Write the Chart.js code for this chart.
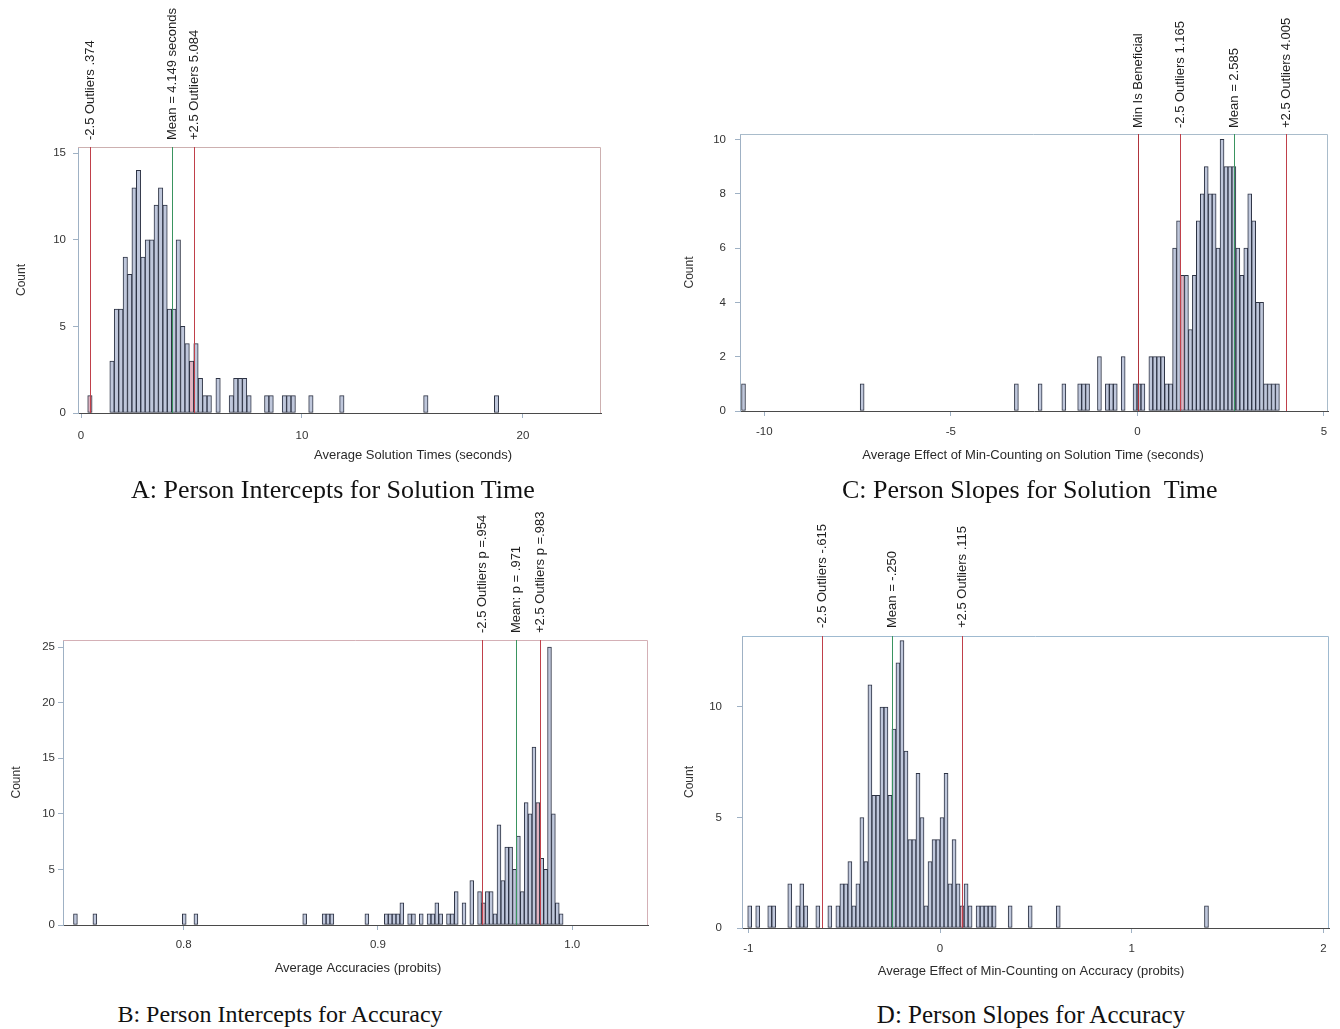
<!DOCTYPE html>
<html>
<head>
<meta charset="utf-8">
<title>Person intercepts and slopes</title>
<script src="https://cdn.jsdelivr.net/npm/chart.js@4.4.1/dist/chart.umd.min.js"></script>
<style>
  body { margin: 0; background: #fff; }
  #page { position: relative; width: 1340px; height: 1029px; overflow: hidden; }
  .panel { position: absolute; }
  .caption {
    position: absolute;
    font-family: "Liberation Serif", "Times New Roman", serif;
    font-size: 26px;
    line-height: 26px;
    color: #111;
    white-space: pre;
  }
  .centred { transform: translateX(-50%); }
</style>
</head>
<body>
<div id="page">
  <canvas id="chartA" class="panel" width="640" height="475" style="left:0px;top:0px"></canvas>
  <canvas id="chartC" class="panel" width="680" height="475" style="left:660px;top:0px"></canvas>
  <canvas id="chartB" class="panel" width="660" height="520" style="left:0px;top:478px"></canvas>
  <canvas id="chartD" class="panel" width="680" height="520" style="left:660px;top:478px"></canvas>

  <div class="caption" style="left:131px;top:477px">A: Person Intercepts for Solution Time</div>
  <div class="caption" style="left:842px;top:477px">C: Person Slopes for Solution  Time</div>
  <div class="caption centred" style="left:280px;top:1002px;font-size:24px;line-height:24px">B: Person Intercepts for Accuracy</div>
  <div class="caption centred" style="left:1031px;top:1002px;font-size:25px;line-height:25px">D: Person Slopes for Accuracy</div>
</div>

<script>
Chart.defaults.font.family = '"Liberation Sans", Arial, sans-serif';
Chart.defaults.color = '#333';

// A: person intercepts, solution time (seconds)
const aBinStart = 0.303;
const aBinWidth = 0.2;
const aCounts = [
    1, 0, 0, 0, 0, 3, 6, 6, 9, 8,
    13, 14, 9, 10, 10, 12, 13, 12, 6, 6,
    10, 5, 4, 3, 4, 2, 1, 1, 0, 2,
    0, 0, 1, 2, 2, 2, 1, 0, 0, 0,
    1, 1, 0, 0, 1, 1, 1, 0, 0, 0,
    1, 0, 0, 0, 0, 0, 0, 1, 0, 0,
    0, 0, 0, 0, 0, 0, 0, 0, 0, 0,
    0, 0, 0, 0, 0, 0, 1, 0, 0, 0,
    0, 0, 0, 0, 0, 0, 0, 0, 0, 0,
    0, 0, 1
];
const aLineValues = [0.374, 4.149, 5.084];
const aLineKinds = ["out", "mean", "out"];
const aLineLabels = ["-2.5 Outliers .374", "Mean = 4.149 seconds", "+2.5 Outliers 5.084"];
const aXTicks = [0, 10, 20];
const aXTickLabels = ["0", "10", "20"];
const aYTicks = [0, 5, 10, 15];

// B: person intercepts, accuracy (probits)
const bBinStart = 0.7433;
const bBinWidth = 0.002;
const bCounts = [
    1, 0, 0, 0, 0, 1, 0, 0, 0, 0,
    0, 0, 0, 0, 0, 0, 0, 0, 0, 0,
    0, 0, 0, 0, 0, 0, 0, 0, 1, 0,
    0, 1, 0, 0, 0, 0, 0, 0, 0, 0,
    0, 0, 0, 0, 0, 0, 0, 0, 0, 0,
    0, 0, 0, 0, 0, 0, 0, 0, 0, 1,
    0, 0, 0, 0, 1, 1, 1, 0, 0, 0,
    0, 0, 0, 0, 0, 1, 0, 0, 0, 0,
    1, 1, 1, 1, 2, 0, 1, 1, 0, 1,
    0, 1, 1, 2, 1, 0, 1, 1, 3, 0,
    2, 0, 4, 0, 3, 2, 3, 3, 1, 9,
    4, 7, 7, 5, 8, 3, 11, 10, 16, 11,
    6, 5, 25, 10, 2, 1
];
const bLineValues = [0.954, 0.971, 0.983];
const bLineKinds = ["out", "mean", "out"];
const bLineLabels = ["-2.5 Outliers p =.954", "Mean: p = .971", "+2.5 Outliers p =.983"];
const bXTicks = [0.8, 0.9, 1.0];
const bXTickLabels = ["0.8", "0.9", "1.0"];
const bYTicks = [0, 5, 10, 15, 20, 25];

// C: person slopes, solution time
const cBinStart = -10.609;
const cBinWidth = 0.106;
const cCounts = [
    1, 0, 0, 0, 0, 0, 0, 0, 0, 0,
    0, 0, 0, 0, 0, 0, 0, 0, 0, 0,
    0, 0, 0, 0, 0, 0, 0, 0, 0, 0,
    1, 0, 0, 0, 0, 0, 0, 0, 0, 0,
    0, 0, 0, 0, 0, 0, 0, 0, 0, 0,
    0, 0, 0, 0, 0, 0, 0, 0, 0, 0,
    0, 0, 0, 0, 0, 0, 0, 0, 0, 1,
    0, 0, 0, 0, 0, 1, 0, 0, 0, 0,
    0, 1, 0, 0, 0, 1, 1, 1, 0, 0,
    2, 0, 1, 1, 1, 0, 2, 0, 0, 1,
    1, 1, 0, 2, 2, 2, 2, 1, 1, 6,
    7, 5, 5, 3, 5, 7, 8, 9, 8, 8,
    6, 10, 9, 9, 9, 6, 5, 6, 8, 7,
    4, 4, 1, 1, 1, 1
];
const cLineValues = [0, 1.165, 2.585, 4.005];
const cLineKinds = ["min", "out", "mean", "out"];
const cLineLabels = ["Min Is Beneficial", "-2.5 Outliers 1.165", "Mean = 2.585", "+2.5 Outliers 4.005"];
const cXTicks = [-10, -5, 0, 5];
const cXTickLabels = ["-10", "-5", "0", "5"];
const cYTicks = [0, 2, 4, 6, 8, 10];

// D: person slopes, accuracy
const dBinStart = -1.0032;
const dBinWidth = 0.0209;
const dCounts = [
    1, 0, 1, 0, 0, 1, 1, 0, 0, 0,
    2, 0, 1, 2, 1, 0, 0, 1, 0, 0,
    1, 0, 1, 2, 2, 3, 1, 2, 5, 3,
    11, 6, 6, 10, 10, 6, 9, 12, 13, 8,
    4, 4, 7, 5, 1, 3, 4, 4, 5, 7,
    2, 4, 2, 1, 2, 1, 0, 1, 1, 1,
    1, 1, 0, 0, 0, 1, 0, 0, 0, 0,
    1, 0, 0, 0, 0, 0, 0, 1, 0, 0,
    0, 0, 0, 0, 0, 0, 0, 0, 0, 0,
    0, 0, 0, 0, 0, 0, 0, 0, 0, 0,
    0, 0, 0, 0, 0, 0, 0, 0, 0, 0,
    0, 0, 0, 0, 1
];
const dLineValues = [-0.615, -0.25, 0.115];
const dLineKinds = ["out", "mean", "out"];
const dLineLabels = ["-2.5 Outliers -.615", "Mean = -.250", "+2.5 Outliers .115"];
const dXTicks = [-1, 0, 1, 2];
const dXTickLabels = ["-1", "0", "1", "2"];
const dYTicks = [0, 5, 10];

const binFill = "#bfc7db";
const binEdge = "#2d3344";
const binPink = "#e0b3c1";
const axisColor = "#9fb1c4";
const lineColor = { out: "#c0404a", mean: "#3a9460", min: "#b0343c" };

function overlay(p) {
    return {
        id: "overlay" + p.id,
        afterDatasetsDraw(chart) {
            const { ctx, chartArea: a, scales: { x } } = chart;
            ctx.save();
            ctx.setLineDash([]);
            ctx.lineWidth = 1;

            // top and right frame
            ctx.strokeStyle = p.frame;
            ctx.beginPath();
            ctx.moveTo(a.left, a.top + 0.5);
            ctx.lineTo(a.right - 0.5, a.top + 0.5);
            ctx.lineTo(a.right - 0.5, a.bottom);
            ctx.stroke();

            // reference lines + rotated labels above the frame
            p.lines.forEach((v, k) => {
                // keep the 1px line on an even column so its colour survives jpeg chroma
                const px = 2 * Math.round(x.getPixelForValue(v) / 2) + 0.5;
                ctx.strokeStyle = lineColor[p.kinds[k]];
                ctx.beginPath();
                ctx.moveTo(px, a.top);
                ctx.lineTo(px, a.bottom);
                ctx.stroke();

                ctx.save();
                ctx.translate(px, a.top - p.labelGap);
                ctx.rotate(-Math.PI / 2);
                ctx.font = '13px "Liberation Sans", Arial, sans-serif';
                ctx.fillStyle = "#1e1e1e";
                ctx.textAlign = "left";
                ctx.textBaseline = "middle";
                ctx.fillText(p.labels[k], 0, 0);
                ctx.restore();
            });

            // x axis title (placed where the reference has it)
            ctx.font = '13px "Liberation Sans", Arial, sans-serif';
            ctx.fillStyle = "#2a2a2a";
            ctx.textAlign = "center";
            ctx.textBaseline = "middle";
            ctx.fillText(p.xTitle, p.xTitleAt[0] - p.left, p.xTitleAt[1] - p.top);
            ctx.restore();
        }
    };
}

function histogram(p) {
    const bins = p.counts.map((n, i) => ({ x: p.start + (i + 0.5) * p.width, y: n }));
    const fills = p.counts.map((n, i) => {
        const lo = p.start + i * p.width;
        const hit = p.lines.some((v, k) => p.kinds[k] === "out" && v >= lo && v < lo + p.width);
        return hit ? binPink : binFill;
    });

    const config = {
        type: "bar",
        data: {
            datasets: [{
                data: bins,
                backgroundColor: fills,
                borderColor: binEdge,
                borderWidth: 1,
                borderSkipped: false,
                barPercentage: 1,
                categoryPercentage: 1,
            }],
        },
        options: {
            responsive: false,
            animation: false,
            devicePixelRatio: 1,
            layout: {
                padding: { top: p.area.t, right: p.w - p.area.r, left: 0, bottom: 0 },
            },
            plugins: {
                legend: { display: false },
                tooltip: { enabled: false },
            },
            scales: {
                x: {
                    type: "linear",
                    bounds: "data",
                    min: p.xMin,
                    max: p.xMax,
                    offset: false,
                    afterFit: (s) => { s.height = p.h - p.area.b; },
                    afterBuildTicks: (s) => { s.ticks = p.xTicks.map((v) => ({ value: v })); },
                    ticks: {
                        callback: (v, i) => p.xTickLabels[i],
                        padding: p.xPad,
                        maxRotation: 0,
                        autoSkip: false,
                        font: { size: 11.5 },
                        color: "#333",
                    },
                    grid: { offset: false, drawOnChartArea: false, tickLength: 5, color: axisColor },
                    border: { color: "#4a4a4a", dash: [2, 2] },
                },
                y: {
                    min: 0,
                    max: p.yMax,
                    bounds: "data",
                    afterFit: (s) => { s.width = p.area.l; },
                    afterBuildTicks: (s) => { s.ticks = p.yTicks.map((v) => ({ value: v })); },
                    ticks: {
                        callback: (v) => String(v),
                        padding: p.yPad,
                        font: { size: 11.5 },
                        color: "#333",
                    },
                    grid: { drawOnChartArea: false, tickLength: 5, color: axisColor },
                    border: { color: axisColor },
                    title: {
                        display: true,
                        text: "Count",
                        font: { size: 12 },
                        color: "#333",
                        padding: { top: p.yTitlePad, bottom: 0 },
                    },
                },
            },
        },
        plugins: [overlay(p)],
    };

    return new Chart(document.getElementById(p.id), config);
}

histogram({
    id: "chartA", left: 0, top: 0, w: 640, h: 475,
    area: { l: 78, t: 147, r: 601, b: 413 },
    xMin: -0.136, xMax: 23.53, yMax: 15.35,
    start: aBinStart, width: aBinWidth, counts: aCounts,
    lines: aLineValues, kinds: aLineKinds, labels: aLineLabels,
    xTicks: aXTicks, xTickLabels: aXTickLabels, yTicks: aYTicks,
    xPad: 11, yPad: 7, yTitlePad: 14.8, labelGap: 7, frame: "#cdb0b0",
    xTitle: "Average Solution Times (seconds)", xTitleAt: [413, 455],
});

histogram({
    id: "chartC", left: 660, top: 0, w: 680, h: 475,
    area: { l: 80, t: 134, r: 668, b: 411 },
    xMin: -10.65, xMax: 5.11, yMax: 10.2,
    start: cBinStart, width: cBinWidth, counts: cCounts,
    lines: cLineValues, kinds: cLineKinds, labels: cLineLabels,
    xTicks: cXTicks, xTickLabels: cXTickLabels, yTicks: cYTicks,
    xPad: 9, yPad: 9, yTitlePad: 22.8, labelGap: 6, frame: "#a9bccb",
    xTitle: "Average Effect of Min-Counting on Solution Time (seconds)", xTitleAt: [1033, 455],
});

histogram({
    id: "chartB", left: 0, top: 478, w: 660, h: 520,
    area: { l: 63, t: 162, r: 648, b: 447 },
    xMin: 0.7379, xMax: 1.039, yMax: 25.63,
    start: bBinStart, width: bBinWidth, counts: bCounts,
    lines: bLineValues, kinds: bLineKinds, labels: bLineLabels,
    xTicks: bXTicks, xTickLabels: bXTickLabels, yTicks: bYTicks,
    xPad: 8, yPad: 3, yTitlePad: 9.8, labelGap: 7, frame: "#d4b0b6",
    xTitle: "Average Accuracies (probits)", xTitleAt: [358, 968],
});

histogram({
    id: "chartD", left: 660, top: 478, w: 680, h: 520,
    area: { l: 82, t: 158, r: 669, b: 450 },
    xMin: -1.033, xMax: 2.029, yMax: 13.21,
    start: dBinStart, width: dBinWidth, counts: dCounts,
    lines: dLineValues, kinds: dLineKinds, labels: dLineLabels,
    xTicks: dXTicks, xTickLabels: dXTickLabels, yTicks: dYTicks,
    xPad: 9, yPad: 15, yTitlePad: 22.8, labelGap: 8, frame: "#9fbad0",
    xTitle: "Average Effect of Min-Counting on Accuracy (probits)", xTitleAt: [1031, 971],
});
</script>
</body>
</html>
